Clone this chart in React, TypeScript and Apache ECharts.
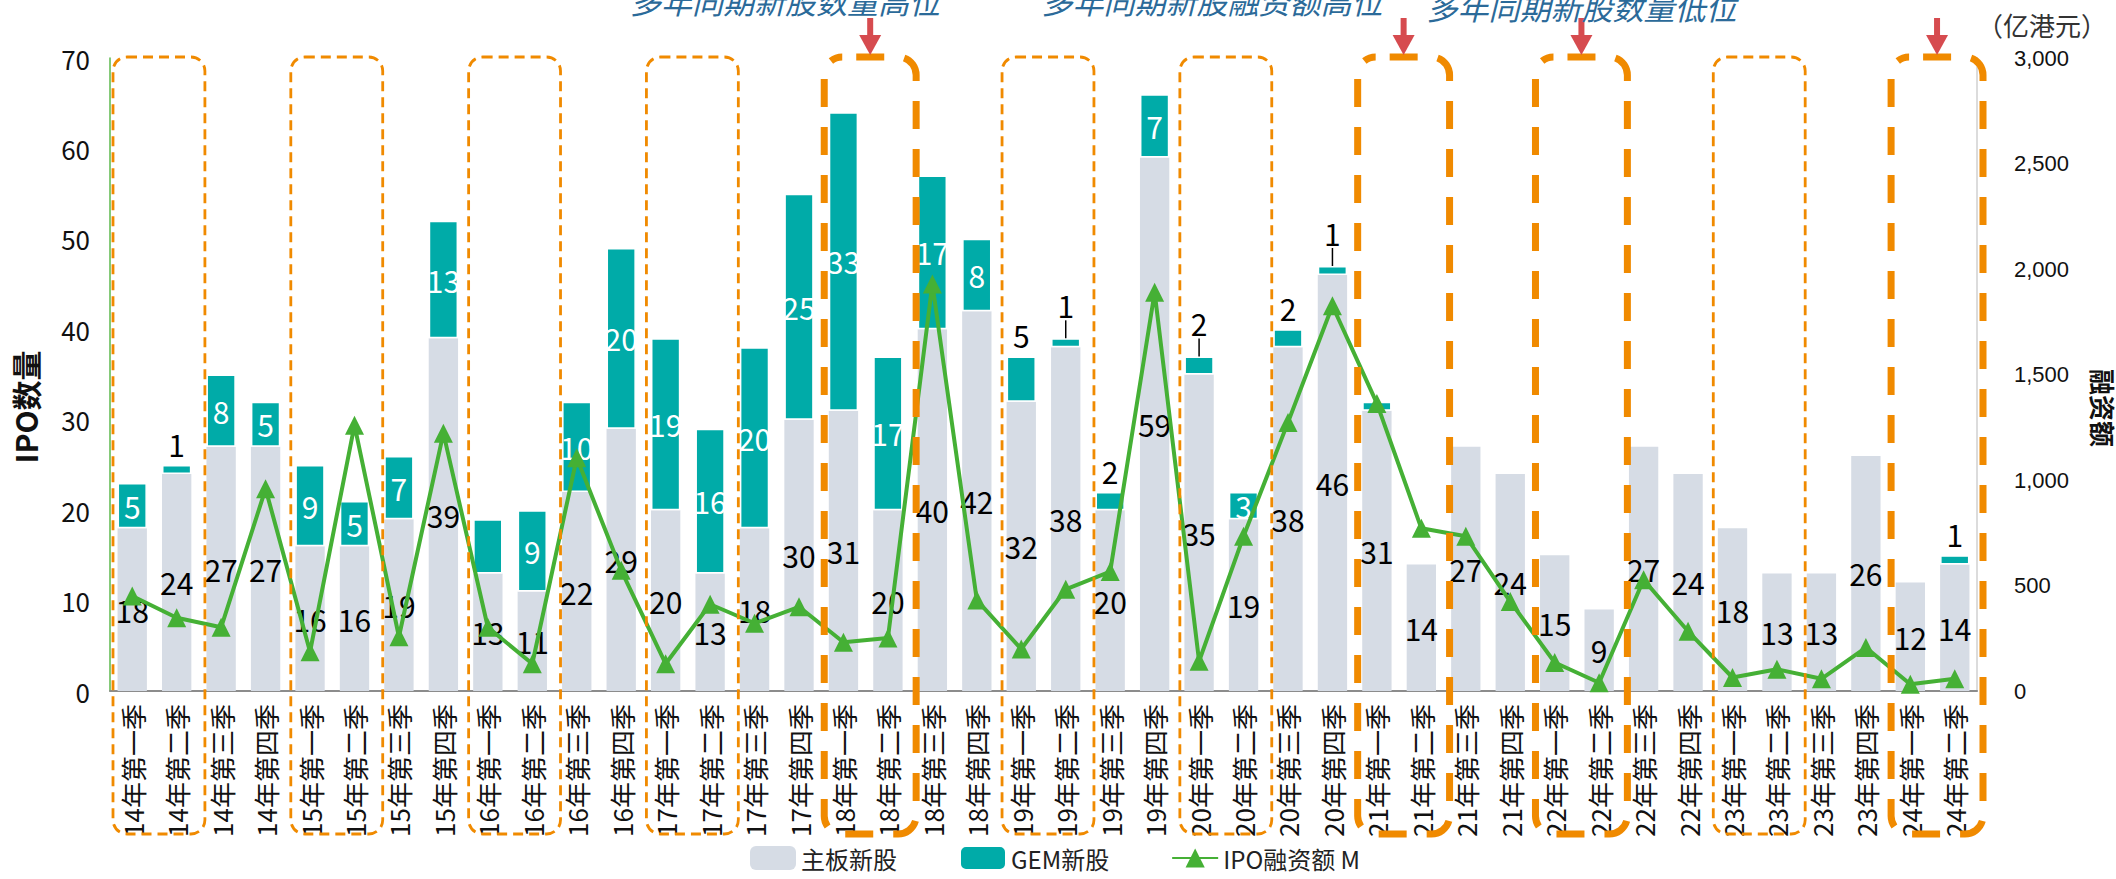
import React, { useEffect, useRef } from "react";
import * as echarts from "echarts";

const categories = [
  "14年第一季", "14年第二季", "14年第三季", "14年第四季",
  "15年第一季", "15年第二季", "15年第三季", "15年第四季",
  "16年第一季", "16年第二季", "16年第三季", "16年第四季",
  "17年第一季", "17年第二季", "17年第三季", "17年第四季",
  "18年第一季", "18年第二季", "18年第三季", "18年第四季",
  "19年第一季", "19年第二季", "19年第三季", "19年第四季",
  "20年第一季", "20年第二季", "20年第三季", "20年第四季",
  "21年第一季", "21年第二季", "21年第三季", "21年第四季",
  "22年第一季", "22年第二季", "22年第三季", "22年第四季",
  "23年第一季", "23年第二季", "23年第三季", "23年第四季",
  "24年第一季", "24年第二季",
];

const mainBoard = [
  18, 24, 27, 27, 16, 16, 19, 39, 13, 11, 22, 29, 20, 13, 18, 30, 31, 20, 40, 42, 32,
  38, 20, 59, 35, 19, 38, 46, 31, 14, 27, 24, 15, 9, 27, 24, 18, 13, 13, 26, 12, 14,
];

const gemBoard = [
  5, 1, 8, 5, 9, 5, 7, 13, 6, 9, 10, 20, 19, 16, 20, 25, 33, 17, 17, 8, 5,
  1, 2, 7, 2, 3, 2, 1, 1, 0, 0, 0, 0, 0, 0, 0, 0, 0, 0, 0, 0, 1,
];

const ipoFunds = [
  450, 347, 302, 958, 186, 1260, 257, 1222, 302, 129, 1105, 572, 129, 411, 321, 399, 231, 251,
  1929, 431, 199, 482, 566, 1890, 141, 733, 1273, 1826, 1363, 771, 733, 424, 135, 39, 527, 283,
  64, 103, 58, 206, 32, 58,
];

const leftTicks = { min: 0, max: 70, interval: 10 };
const rightTicks = { min: 0, max: 3000, interval: 500 };

const gemLabelOutside = ["19年第一季"];
const gemLabelHidden = ["16年第一季", "21年第一季"];
const gemLabelLeader = ["19年第二季", "20年第一季", "20年第四季"];

const boxYears = ["14", "15", "16", "17", "18", "19", "20", "21", "22", "23", "24"];
const thickBoxYears = ["18", "21", "22", "24"];

const notes = ["多年同期新股数量高位", "多年同期新股融资额高位", "多年同期新股数量低位"];
const leftTitle = "IPO数量";
const rightTitle = "融资额";
const rightUnit = "（亿港元）";

const NARROW = "'Liberation Sans Narrow', 'Noto Sans CJK SC', sans-serif";
const CJK = "'Noto Sans CJK SC', 'Liberation Sans Narrow', sans-serif";
const ORANGE = "#F08A00";
const RED = "#D64B4F";

export default function App() {
  const ref = useRef<HTMLDivElement>(null);

  useEffect(() => {
    document.body.style.margin = "0";
    const chart = echarts.init(ref.current!, null, { renderer: "svg" });

    const gemData = gemBoard.map((v, i) => {
      const c = categories[i];
      if (!v) return { value: "-", label: { show: false } };
      if (gemLabelHidden.includes(c)) return { value: v, label: { show: false } };
      if (v <= 2 || gemLabelOutside.includes(c)) {
        const leader = gemLabelLeader.includes(c);
        return {
          value: v,
          label: { show: true, position: "top", color: "#000", distance: leader ? 2 : 6 },
          labelLine: { show: leader, lineStyle: { color: "#000", width: 1.5 } },
        };
      }
      return { value: v, label: { show: true, position: "inside", color: "#fff" } };
    });

    const option: any = {
      animation: false,
      backgroundColor: "#fff",
      grid: { left: 110, right: 139, top: 58, bottom: 188, containLabel: false },
      legend: {
        top: 840,
        left: 745,
        itemWidth: 46,
        itemHeight: 24,
        itemGap: 62,
        textStyle: { fontSize: 24, color: "#222", fontFamily: CJK },
        data: ["主板新股", "GEM新股", "IPO融资额 M"],
      },
      xAxis: {
        type: "category",
        data: categories,
        axisTick: { show: false },
        axisLine: { lineStyle: { color: "#8C8C8C", width: 2 } },
        axisLabel: {
          rotate: 90,
          interval: 0,
          margin: 13,
          fontSize: 26,
          color: "#111",
          fontFamily: CJK,
        },
      },
      yAxis: [
        {
          type: "value",
          ...leftTicks,
          splitLine: { show: false },
          axisTick: { show: false },
          axisLine: { show: true, lineStyle: { color: "#5DB94C", width: 1.5 } },
          axisLabel: { fontSize: 26, color: "#111", margin: 20, fontFamily: NARROW },
        },
        {
          type: "value",
          position: "right",
          ...rightTicks,
          splitLine: { show: false },
          axisTick: { show: false },
          axisLine: { show: true, lineStyle: { color: "#D0D0D0", width: 1.5 } },
          axisLabel: {
            fontSize: 22,
            color: "#111",
            margin: 37,
            fontFamily: "'Liberation Sans', sans-serif",
            formatter: (v: number) => v.toLocaleString("en-US"),
          },
        },
      ],
      series: [
        {
          name: "主板新股",
          type: "bar",
          stack: "ipo",
          barWidth: "66%",
          data: mainBoard,
          itemStyle: { color: "#D6DCE5" },
          label: {
            show: true,
            position: "inside",
            color: "#000",
            fontSize: 30,
            fontFamily: NARROW,
          },
        },
        {
          name: "GEM新股",
          type: "bar",
          stack: "ipo",
          barWidth: "66%",
          data: gemData,
          itemStyle: { color: "#00ABA8", borderColor: "#fff", borderWidth: 1.5 },
          label: { show: true, fontSize: 30, fontFamily: NARROW },
          labelLayout: (p: any) =>
            gemLabelLeader.includes(categories[p.dataIndex]) ? { dy: -16 } : {},
          labelLine: { show: false, lineStyle: { color: "#000", width: 1.5 } },
        },
        {
          name: "IPO融资额 M",
          type: "line",
          yAxisIndex: 1,
          data: ipoFunds,
          symbol: "triangle",
          symbolSize: 19,
          z: 5,
          itemStyle: { color: "#45B035" },
          lineStyle: { color: "#45B035", width: 4 },
        },
      ],
    };

    chart.setOption(option);

    const px = (c: string) => chart.convertToPixel({ xAxisIndex: 0 }, c) as number;
    const cw = px(categories[1]) - px(categories[0]);
    const yTop = (chart.convertToPixel({ yAxisIndex: 0 }, leftTicks.max) as number) - 1;
    const yBot = chart.getHeight() - 45;

    const elements: any[] = [];
    const centers: Record<string, number> = {};
    boxYears.forEach((yr) => {
      const i = categories.indexOf(yr + "年第一季");
      const x0 = px(categories[i]) - cw / 2 + 3;
      const x1 = px(categories[i + 1]) + cw / 2 + 6;
      const thick = thickBoxYears.includes(yr);
      const w = x1 - x0;
      const r = thick ? 18 : 14;
      let dash: number[] = [10, 6];
      let offset = 0;
      if (thick) {
        dash = [28, 20];
        const P = 48;
        const d = w / 2 - r - 14;
        offset = ((-d % P) + P) % P;
      }
      centers[yr] = (x0 + x1) / 2;
      elements.push({
        type: "rect",
        silent: true,
        z: 20,
        shape: { x: x0, y: yTop, width: w, height: yBot - yTop, r },
        style: {
          fill: "none",
          stroke: ORANGE,
          lineWidth: thick ? 7 : 2.8,
          lineDash: dash,
          lineDashOffset: offset,
        },
      });
      if (thick) {
        const cx = (x0 + x1) / 2;
        elements.push({
          type: "rect",
          silent: true,
          z: 21,
          shape: { x: cx - 3, y: 18, width: 6, height: 20 },
          style: { fill: RED },
        });
        elements.push({
          type: "polygon",
          silent: true,
          z: 21,
          shape: { points: [[cx - 11, 35], [cx + 11, 35], [cx, 55]] },
          style: { fill: RED },
        });
      }
    });

    const noteStyle = {
      fill: "#2B6A99",
      fontSize: 31,
      fontStyle: "italic",
      fontFamily: CJK,
      textAlign: "center",
      textVerticalAlign: "bottom",
    };
    elements.push({ type: "text", silent: true, z: 22, x: 785, y: 16, style: { ...noteStyle, text: notes[0] } });
    elements.push({ type: "text", silent: true, z: 22, x: 1212, y: 16, style: { ...noteStyle, text: notes[1] } });
    elements.push({ type: "text", silent: true, z: 22, x: centers["22"], y: 22, style: { ...noteStyle, text: notes[2] } });
    elements.push({
      type: "text",
      silent: true,
      z: 22,
      x: 2042,
      y: 24,
      style: {
        text: rightUnit,
        fill: "#333",
        fontSize: 26,
        fontFamily: CJK,
        textAlign: "center",
        textVerticalAlign: "middle",
      },
    });
    elements.push({
      type: "text",
      silent: true,
      z: 22,
      x: 25,
      y: 407,
      rotation: Math.PI / 2,
      style: {
        text: leftTitle,
        fill: "#111",
        fontSize: 30,
        fontWeight: "bold",
        fontFamily: CJK,
        textAlign: "center",
        textVerticalAlign: "middle",
      },
    });
    elements.push({
      type: "text",
      silent: true,
      z: 22,
      x: 2103,
      y: 408,
      rotation: -Math.PI / 2,
      style: {
        text: rightTitle,
        fill: "#111",
        fontSize: 26,
        fontWeight: "bold",
        fontFamily: CJK,
        textAlign: "center",
        textVerticalAlign: "middle",
      },
    });

    chart.setOption({ graphic: { elements } });

    return () => chart.dispose();
  }, []);

  return <div ref={ref} style={{ width: 2116, height: 879 }} />;
}
